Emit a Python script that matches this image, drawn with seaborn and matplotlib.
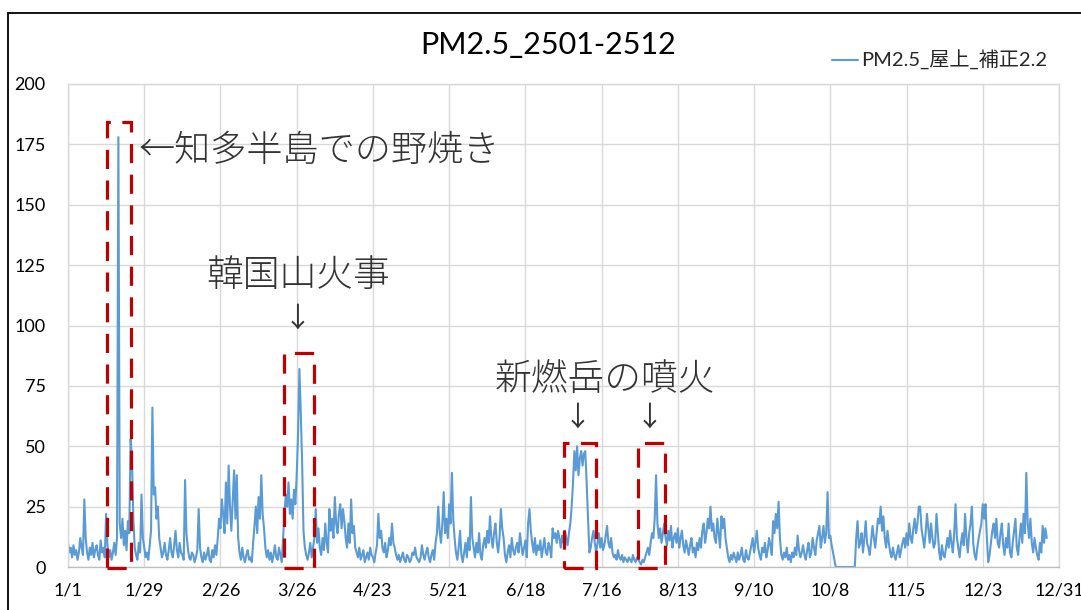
import numpy as np
import pandas as pd
import matplotlib
matplotlib.use("Agg")
import matplotlib.pyplot as plt
from matplotlib.lines import Line2D
from matplotlib.patches import Rectangle
import seaborn as sns

# ---- data: PM2.5 readings, two per day (12 h step) starting 1/1 ----
seg_jan = [10, 6, 8, 4, 9, 5, 7, 3, 6, 12, 8, 5, 28, 12,
           6, 3, 8, 5, 10, 4, 7, 9, 5, 3, 11, 6, 8, 4, 22, 9,
           4, 7, 3, 6, 10, 5, 12, 178, 18, 12, 20, 9, 15, 7, 19, 14,
           53, 45, 20, 8, 5, 3, 10, 6, 30, 12, 8, 4, 6, 3, 9, 15]
seg_feb = [66, 30, 33, 20, 25, 12, 8, 4, 6, 10, 5, 3, 7, 12, 6, 4,
           9, 15, 7, 4, 10, 6, 5, 3, 36, 14, 8, 4, 3, 6, 5, 2, 4, 7,
           24, 8, 4, 2, 6, 3, 5, 8, 3, 2, 7, 4, 9, 5,
           12, 20, 16, 28, 22, 14, 35, 18, 42, 25]
seg_mar = [15, 28, 40, 20, 38, 12, 6, 3, 8, 4, 2, 5, 7, 3, 4, 2,
           10, 17, 25, 14, 29, 20, 38, 22, 16, 8,
           4, 7, 3, 6, 2, 5, 9, 4, 3, 8, 5, 2,
           12, 22, 30, 25, 35, 22, 28, 20, 32, 26, 38, 55, 82, 64, 43, 15,
           8, 5, 3, 6, 10, 4, 8, 12]
seg_apr = [24, 10, 16, 8, 5, 12, 7, 18, 10, 6,
           24, 15, 20, 12, 29, 18, 14, 22, 26, 16, 24, 19, 12, 8, 18, 10, 28, 14, 17, 8,
           6, 4, 8, 3, 5, 7, 2, 4, 6, 3, 8, 5, 4, 2, 6, 9,
           22, 12, 15, 8, 6, 10, 4, 7, 12, 9, 18, 10, 8, 5]
seg_may = [3, 5, 2, 4, 6, 3, 2, 5, 4, 2, 3, 6, 5, 8, 4, 3, 2, 4,
           9, 5, 3, 6, 8, 4, 2, 5, 7, 3, 10, 14, 25, 15,
           10, 18, 31, 14, 20, 12, 26, 18, 39, 20, 12, 6,
           3, 8, 15, 5, 2, 6, 10, 4, 12, 7, 29, 12,
           8, 4, 10, 6, 14, 5, 3, 9]
seg_jun = [12, 8, 15, 10, 21, 12, 8, 14, 18, 10, 6, 12, 24, 16, 12, 5, 2, 6,
           9, 4, 12, 7, 5, 8, 10, 6, 14, 9, 5, 8, 11, 4, 18, 24, 15, 10,
           6, 12, 5, 9, 7, 11, 4, 8, 12, 6, 5, 10, 8, 4, 16, 12,
           14, 10, 15, 12, 8, 13, 10, 15]
seg_jul = [12, 9, 14, 18, 25, 35, 48, 40, 50, 38, 45, 48, 42, 47, 48, 35,
           20, 6, 8, 12, 15, 10, 6, 10, 14, 8, 12, 7, 9, 13, 17, 10, 8, 12,
           6, 4, 5, 3, 7, 4, 3, 5, 2, 4, 3, 2, 4, 3, 2, 5, 3, 2, 4, 3, 2, 1, 3, 2, 4, 6,
           8, 5]
seg_aug = [10, 14, 12, 20, 38, 18, 12, 16, 10, 14,
           18, 12, 9, 15, 11, 17, 8, 12, 14, 10, 16, 8, 12, 15, 9, 6, 11, 8,
           5, 9, 12, 6, 8, 4, 10, 7, 12, 8, 15, 18, 10, 14, 20, 16, 25, 15,
           18, 12, 10, 20, 14, 8, 21, 16, 20, 12, 8, 4, 2, 5, 3, 6]
seg_sep = [4, 2, 6, 3, 5, 8, 3, 2, 7, 4, 3, 6, 9, 12, 6, 10, 15, 8,
           5, 3, 8, 6, 10, 4, 7, 12, 9, 5, 19, 14, 22, 16, 27, 12,
           5, 3, 6, 4, 8, 3, 5, 2, 6, 4, 8, 5, 13, 7, 4, 6,
           9, 5, 3, 7, 10, 4, 6, 12, 8, 5, 11, 14]
seg_oct = [17, 8, 12, 17, 10, 14, 31, 12, 13, 9, 6, 3,
           0, 0, 0, 0, 0, 0, 0, 0, 0, 0, 0, 0, 0, 0,
           0, 12, 19, 8, 10, 14, 6, 12, 19, 10, 8, 5, 11, 17, 12, 8, 14, 20,
           18, 25, 15, 21, 12, 8, 15, 10, 6, 4, 8, 5, 3, 6, 9, 4, 7, 10]
seg_nov = [12, 8, 14, 9, 18, 12, 10, 16, 20, 14, 18, 25, 25, 16, 12, 8,
           14, 22, 16, 10, 18, 12, 8, 10, 22, 14, 6, 3, 9, 5, 4, 8,
           12, 8, 15, 10, 6, 14, 26, 12, 8, 4, 10, 14, 9, 22, 12, 6,
           14, 18, 25, 10, 5, 3, 8, 12, 15, 18, 26, 20, 26, 12]
seg_dec = [2, 5, 10, 15, 18, 12, 20, 10, 8, 14, 18, 9, 5, 12, 8, 18, 6, 4,
           10, 15, 20, 8, 5, 12, 18, 10, 22, 14, 39, 18, 12, 20, 10, 6,
           12, 8, 5, 3, 10, 6, 17, 10, 16, 12]

x_tick_labels = ["1/1", "1/29", "2/26", "3/26", "4/23", "5/21", "6/18",
                 "7/16", "8/13", "9/10", "10/8", "11/5", "12/3", "12/31"]
y_ticks = [0, 25, 50, 75, 100, 125, 150, 175, 200]
series_name = "PM2.5_屋上_補正2.2"
title = "PM2.5_2501-2512"

values = np.concatenate([seg_jan, seg_feb, seg_mar, seg_apr, seg_may, seg_jun,
                         seg_jul, seg_aug, seg_sep, seg_oct, seg_nov, seg_dec]).astype(float)
df = pd.DataFrame({"day": np.arange(len(values)) * 0.5, series_name: values})

# ---- style ----
sns.set_theme(style="white")
plt.rcParams["font.family"] = ["Lato", "Noto Sans CJK JP", "DejaVu Sans"]

W, H = 1081, 610
fig = plt.figure(figsize=(W / 100, H / 100), dpi=100)
L, R, T, B = 68, 1059, 84, 567
ax = fig.add_axes([L / W, 1 - B / H, (R - L) / W, (B - T) / H])

sns.lineplot(data=df, x="day", y=series_name, ax=ax, color="#5B9BD5",
             linewidth=1.5, label=series_name)

ax.set_xlim(0, 364)
ax.set_ylim(0, 200)
ax.set_xticks([28 * i for i in range(len(x_tick_labels))])
ax.set_xticklabels(x_tick_labels)
ax.set_yticks(y_ticks)
ax.set_xlabel("")
ax.set_ylabel("")
ax.grid(True, color="#D9D9D9", linewidth=1.0)
ax.tick_params(length=0, labelsize=13, colors="black")
ax.tick_params(axis="x", pad=11)
ax.tick_params(axis="y", pad=16)
for s in ax.spines.values():
    s.set_color("#D9D9D9")
    s.set_linewidth(1.0)
ax.spines["bottom"].set_color("#BFBFBF")

leg = ax.legend(loc="center left", bbox_to_anchor=(814 / W, 1 - 60 / H),
                bbox_transform=fig.transFigure, frameon=False,
                handlelength=1.3, handletextpad=0.12, fontsize=14.5)

fig.text(548 / W, 1 - 45 / H, title, ha="center", va="center",
         fontsize=22, color="black")

# ---- annotations ----
jp = ["Noto Sans CJK JP", "DejaVu Sans"]
acol = "#333333"
ax.text(26.0, 172.5, "←知多半島での野焼き", fontsize=26, family=jp,
        color=acol, ha="left", va="center", fontweight="light")
ax.text(84.4, 120.5, "韓国山火事", fontsize=26.5, family=jp,
        color=acol, ha="center", va="center", fontweight="light")
ax.text(84.4, 103, "↓", fontsize=20, family=jp, color=acol,
        ha="center", va="center")
ax.text(197.3, 77.4, "新燃岳の噴火", fontsize=26.5, family=jp,
        color=acol, ha="center", va="center", fontweight="light")
ax.text(187.0, 61.7, "↓", fontsize=20, family=jp, color=acol,
        ha="center", va="center")
ax.text(213.7, 61.7, "↓", fontsize=20, family=jp, color=acol,
        ha="center", va="center")

boxes = [(14.2, 23.0, 184.3), (79.3, 90.3, 88.6),
         (182.2, 194.0, 51.3), (209.4, 219.3, 51.3)]
for x0, x1, top in boxes:
    ax.add_patch(Rectangle((x0, -0.3), x1 - x0, top + 0.3, fill=False,
                           edgecolor="#C00000", linewidth=2.3,
                           linestyle=(0, (6.0, 3.6)), clip_on=False, zorder=5))

# ---- chart border (left & top visible) ----
fig.add_artist(Line2D([8 / W, 8 / W], [0, 1 - 13 / H], transform=fig.transFigure,
                      color="black", linewidth=1.3))
fig.add_artist(Line2D([8 / W, 1], [1 - 13 / H, 1 - 13 / H], transform=fig.transFigure,
                      color="black", linewidth=1.3))

fig.savefig("out.png", dpi=100)
